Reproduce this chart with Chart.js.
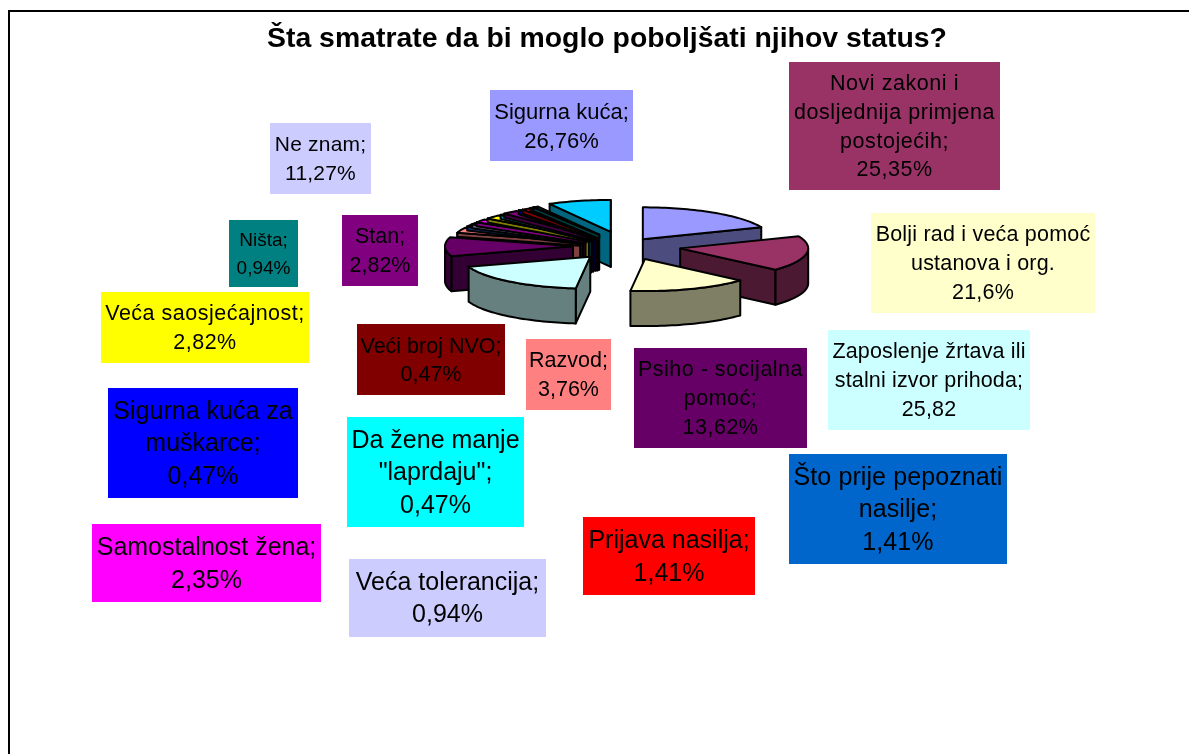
<!DOCTYPE html>
<html>
<head>
<meta charset="utf-8">
<title>Šta smatrate da bi moglo poboljšati njihov status?</title>
<script src="https://cdn.jsdelivr.net/npm/chart.js@4/dist/chart.umd.min.js"></script>
<style>
    html, body { margin: 0; background: #fff; overflow: hidden; }
    #frame { position: absolute; left: 8px; top: 10px; width: 1300px; height: 900px; border-left: 2px solid #000; border-top: 2px solid #000; }
    #wrap { position: absolute; left: 0; top: 0; width: 1189px; height: 754px; }
</style>
</head>
<body>
<div id="frame"></div>
<div id="wrap"><canvas id="chart"></canvas></div>
<script>
const titleText = 'Šta smatrate da bi moglo poboljšati njihov status?';

const categoryLines = [
    ['Sigurna kuća;'],
    ['Novi zakoni i', 'dosljednija primjena', 'postojećih;'],
    ['Bolji rad i veća pomoć', 'ustanova i org.'],
    ['Zaposlenje žrtava ili', 'stalni izvor prihoda;'],
    ['Psiho - socijalna', 'pomoć;'],
    ['Razvod;'],
    ['Što prije pepoznati', 'nasilje;'],
    ['Veća tolerancija;'],
    ['Samostalnost žena;'],
    ['Veća saosjećajnost;'],
    ['Da žene manje', '"laprdaju";'],
    ['Stan;'],
    ['Sigurna kuća za', 'muškarce;'],
    ['Prijava nasilja;'],
    ['Veći broj NVO;'],
    ['Ništa;'],
    ['Ne znam;']
];
const categories = categoryLines.map(l => l.join(' '));
const seriesValues = [26.76, 25.35, 21.6, 25.82, 13.62, 3.76, 1.41, 0.94, 2.35, 2.82, 0.47, 2.82, 0.47, 1.41, 0.47, 0.94, 11.27];
const valueLabels = ['26,76%', '25,35%', '21,6%', '25,82', '13,62%', '3,76%', '1,41%', '0,94%', '2,35%', '2,82%', '0,47%', '2,82%', '0,47%', '1,41%', '0,47%', '0,94%', '11,27%'];

const sliceColors = ['#9999FF', '#993366', '#FFFFCC', '#CCFFFF', '#660066', '#FF8080', '#0066CC', '#CCCCFF', '#FF00FF', '#FFFF00', '#00FFFF', '#800080', '#0000FF', '#FF0000', '#800000', '#008080', '#00CCFF'];
const boxColors = ['#9999FF', '#993366', '#FFFFCC', '#CCFFFF', '#660066', '#FF8080', '#0066CC', '#CCCCFF', '#FF00FF', '#FFFF00', '#00FFFF', '#800080', '#0000FF', '#FF0000', '#800000', '#008080', '#CCCCFF'];

// how far each slice is pulled out of the pie, px
const explode = [32, 56, 56, 55, 52, 48, 48, 48, 48, 48, 48, 49, 50, 50, 51, 52, 58];

// the thin slices between Psiho and Ne znam
const fanSlices = [5, 6, 7, 8, 9, 10, 11, 12, 13, 14, 15];

// x, y, w, h, font size, line gap, letter spacing
const labelBoxes = [
    [490, 90, 143, 71, 22, 29, 0],
    [789, 62, 211, 128, 21.5, 28.7, 0.55],
    [871, 213, 224, 100, 21.5, 29, 0.2],
    [828, 330, 202, 100, 21.5, 29, 0.15],
    [634, 348, 173, 100, 21.5, 29, 0.5],
    [526, 339, 85, 71, 21.5, 29, 0],
    [789, 454, 218, 110, 25, 32.5, 0.1],
    [349, 559, 197, 78, 25, 32, 0],
    [92, 524, 229, 78, 25, 33, 0],
    [101, 292, 208, 71, 21.5, 29, 0.5],
    [347, 417, 177, 110, 25, 32.5, 0],
    [342, 215, 76, 71, 21.5, 29, 0],
    [108, 388, 190, 110, 25, 32.5, 0],
    [583, 517, 172, 78, 25, 33, 0],
    [357, 324, 148, 71, 21.5, 28.5, 0],
    [229, 220, 69, 67, 19, 28, 0],
    [270, 123, 101, 71, 21, 29, 0.2]
];

const PIE_X = 625;
const PIE_Y = 246;
const PIE_R = 128;
const SQUASH = 0.25;
const DEPTH = 35;
const FAN_BAND = 4;

function darken(hex) {
    const n = parseInt(hex.slice(1), 16);
    const r = (n >> 16) >> 1, g = ((n >> 8) & 255) >> 1, b = (n & 255) >> 1;
    return `rgb(${r},${g},${b})`;
}

function arcPoints(ox, oy, r, from, to) {
    const pts = [];
    const steps = Math.max(2, Math.ceil(Math.abs(to - from) / 0.03));
    for (let s = 0; s <= steps; s++) {
        const a = from + (to - from) * s / steps;
        pts.push([ox + Math.cos(a) * r, oy + Math.sin(a) * r * SQUASH]);
    }
    return pts;
}

function fillPoly(ctx, pts, color) {
    ctx.beginPath();
    pts.forEach((p, i) => i ? ctx.lineTo(p[0], p[1]) : ctx.moveTo(p[0], p[1]));
    ctx.closePath();
    ctx.fillStyle = color;
    ctx.fill();
    ctx.stroke();
}

function sliceGeom(el, d) {
    const mid = (el.startAngle + el.endAngle) / 2;
    const ox = PIE_X + Math.cos(mid) * d;
    const oy = PIE_Y + Math.sin(mid) * d * SQUASH;
    return { ox, oy, rim: arcPoints(ox, oy, el.outerRadius, el.startAngle, el.endAngle) };
}

// cut faces and front wall
function drawSides(ctx, el, d, depth) {
    const { ox, oy, rim } = sliceGeom(el, d);
    const a0 = el.startAngle;
    const a1 = el.endAngle;
    const side = darken(el.options.backgroundColor);
    const down = p => [p[0], p[1] + depth];

    // only the faces turned towards the viewer
    if (Math.cos(a0) < 0) {
        const p = rim[0];
        fillPoly(ctx, [[ox, oy], p, down(p), [ox, oy + depth]], side);
    }
    if (Math.cos(a1) > 0) {
        const p = rim[rim.length - 1];
        fillPoly(ctx, [[ox, oy], p, down(p), [ox, oy + depth]], side);
    }

    // outer wall on the front half (canvas angles 0..PI)
    const tau = Math.PI * 2;
    for (let k = -1; k <= 1; k++) {
        const from = Math.max(a0, k * tau);
        const to = Math.min(a1, k * tau + Math.PI);
        if (to > from) {
            const wall = arcPoints(ox, oy, el.outerRadius, from, to);
            fillPoly(ctx, wall.concat(wall.slice().reverse().map(down)), side);
        }
    }
}

function drawTop(ctx, el, d) {
    const { ox, oy, rim } = sliceGeom(el, d);
    fillPoly(ctx, [[ox, oy]].concat(rim), el.options.backgroundColor);
}

function drawSlice(ctx, el, d) {
    drawSides(ctx, el, d, DEPTH);
    drawTop(ctx, el, d);
}

const pie3d = {
    id: 'pie3d',
    beforeDatasetDraw(chart, args) {
        const ctx = chart.ctx;
        const arcs = args.meta.data;
        ctx.save();
        ctx.lineWidth = 2;
        ctx.lineJoin = 'round';
        ctx.strokeStyle = '#000';

        drawSlice(ctx, arcs[16], explode[16]);

        // fan: deep faces first, then the tops with a dark band between them
        fanSlices.slice().reverse().forEach(i => drawSides(ctx, arcs[i], explode[i], DEPTH));
        fanSlices.forEach(i => {
            drawSides(ctx, arcs[i], explode[i], FAN_BAND);
            drawTop(ctx, arcs[i], explode[i]);
        });

        [4, 3, 0, 1, 2].forEach(i => drawSlice(ctx, arcs[i], explode[i]));
        ctx.restore();
        return false;
    }
};

const sliceLabels = {
    id: 'sliceLabels',
    afterDraw(chart) {
        const ctx = chart.ctx;
        ctx.save();
        ctx.textAlign = 'center';
        ctx.textBaseline = 'middle';
        labelBoxes.forEach((b, i) => {
            const [x, y, w, h, size, gap, spacing] = b;
            ctx.fillStyle = boxColors[i];
            ctx.fillRect(x, y, w, h);
            const lines = categoryLines[i].concat(valueLabels[i]);
            const startY = y + h / 2 + 1.5 - gap * (lines.length - 1) / 2;
            ctx.fillStyle = '#000';
            ctx.font = `${size}px "Liberation Sans", Arial, sans-serif`;
            ctx.letterSpacing = `${spacing}px`;
            lines.forEach((line, n) => ctx.fillText(line, x + w / 2, startY + n * gap));
        });
        ctx.restore();
    }
};

new Chart(document.getElementById('chart'), {
    type: 'pie',
    data: {
        labels: categories,
        datasets: [{
            data: seriesValues,
            backgroundColor: sliceColors,
            borderColor: '#000',
            borderWidth: 2
        }]
    },
    options: {
        responsive: true,
        maintainAspectRatio: false,
        animation: false,
        radius: PIE_R,
        layout: { padding: { left: 25 } },
        plugins: {
            legend: { display: false },
            tooltip: { enabled: false },
            title: {
                display: true,
                text: titleText,
                fullSize: false,
                color: '#000',
                font: { family: '"Liberation Sans", Arial, sans-serif', size: 28.4, weight: 'bold' },
                padding: { top: 22, bottom: 0 }
            }
        }
    },
    plugins: [pie3d, sliceLabels]
});
</script>
</body>
</html>
